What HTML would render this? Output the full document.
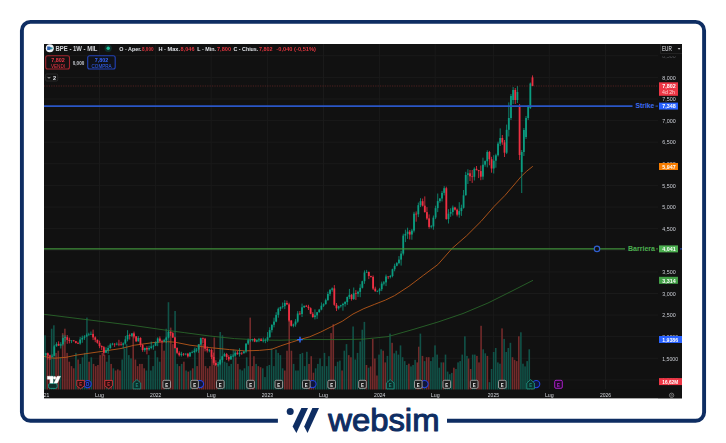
<!DOCTYPE html><html><head><meta charset="utf-8"><title>chart</title><style>html,body{margin:0;padding:0;background:#fff;}svg{display:block}</style></head><body><svg width="726" height="443" viewBox="0 0 726 443" font-family="Liberation Sans, sans-serif">
<defs><filter id="b" color-interpolation-filters="sRGB" x="-5%" y="-5%" width="110%" height="110%"><feGaussianBlur stdDeviation="0.45"/></filter><filter id="tb" color-interpolation-filters="sRGB" x="-2%" y="-2%" width="104%" height="104%"><feGaussianBlur stdDeviation="0.3"/></filter><clipPath id="cc"><rect x="44" y="44" width="614" height="345.8"/></clipPath></defs>
<rect width="726" height="443" fill="#fff"/>
<rect x="21.9" y="21.9" width="682.2" height="398.9" rx="8.5" ry="8.5" fill="none" stroke="#0e2d62" stroke-width="3.9"/>
<rect x="277.9" y="410" width="169.1" height="20" fill="#fff"/>
<rect x="44" y="44" width="638" height="354.2" fill="#111111"/>
<line x1="44" y1="55.8" x2="658" y2="55.8" stroke="#1a1a1a" stroke-width="1"/>
<line x1="44" y1="77.4" x2="658" y2="77.4" stroke="#1a1a1a" stroke-width="1"/>
<line x1="44" y1="99.0" x2="658" y2="99.0" stroke="#1a1a1a" stroke-width="1"/>
<line x1="44" y1="120.6" x2="658" y2="120.6" stroke="#1a1a1a" stroke-width="1"/>
<line x1="44" y1="142.2" x2="658" y2="142.2" stroke="#1a1a1a" stroke-width="1"/>
<line x1="44" y1="163.8" x2="658" y2="163.8" stroke="#1a1a1a" stroke-width="1"/>
<line x1="44" y1="185.4" x2="658" y2="185.4" stroke="#1a1a1a" stroke-width="1"/>
<line x1="44" y1="207.1" x2="658" y2="207.1" stroke="#1a1a1a" stroke-width="1"/>
<line x1="44" y1="228.7" x2="658" y2="228.7" stroke="#1a1a1a" stroke-width="1"/>
<line x1="44" y1="250.3" x2="658" y2="250.3" stroke="#1a1a1a" stroke-width="1"/>
<line x1="44" y1="271.9" x2="658" y2="271.9" stroke="#1a1a1a" stroke-width="1"/>
<line x1="44" y1="293.5" x2="658" y2="293.5" stroke="#1a1a1a" stroke-width="1"/>
<line x1="44" y1="315.1" x2="658" y2="315.1" stroke="#1a1a1a" stroke-width="1"/>
<line x1="44" y1="336.7" x2="658" y2="336.7" stroke="#1a1a1a" stroke-width="1"/>
<line x1="44" y1="358.3" x2="658" y2="358.3" stroke="#1a1a1a" stroke-width="1"/>
<line x1="44" y1="379.9" x2="658" y2="379.9" stroke="#1a1a1a" stroke-width="1"/>
<line x1="99.5" y1="44" x2="99.5" y2="389" stroke="#1a1a1a" stroke-width="1"/>
<line x1="155.7" y1="44" x2="155.7" y2="389" stroke="#1a1a1a" stroke-width="1"/>
<line x1="211.2" y1="44" x2="211.2" y2="389" stroke="#1a1a1a" stroke-width="1"/>
<line x1="267.4" y1="44" x2="267.4" y2="389" stroke="#1a1a1a" stroke-width="1"/>
<line x1="323.5" y1="44" x2="323.5" y2="389" stroke="#1a1a1a" stroke-width="1"/>
<line x1="379.7" y1="44" x2="379.7" y2="389" stroke="#1a1a1a" stroke-width="1"/>
<line x1="435.2" y1="44" x2="435.2" y2="389" stroke="#1a1a1a" stroke-width="1"/>
<line x1="493.4" y1="44" x2="493.4" y2="389" stroke="#1a1a1a" stroke-width="1"/>
<line x1="549.3" y1="44" x2="549.3" y2="389" stroke="#1a1a1a" stroke-width="1"/>
<line x1="605.5" y1="44" x2="605.5" y2="389" stroke="#1a1a1a" stroke-width="1"/>
<g clip-path="url(#cc)" filter="url(#b)">
<rect x="44.25" y="335.3" width="1.6" height="54.5" fill="#115248"/>
<rect x="46.46" y="352.9" width="1.6" height="36.9" fill="#732b2b"/>
<rect x="48.66" y="355.1" width="1.6" height="34.7" fill="#732b2b"/>
<rect x="50.86" y="328.7" width="1.6" height="61.1" fill="#115248"/>
<rect x="53.07" y="325.3" width="1.6" height="64.5" fill="#115248"/>
<rect x="55.27" y="352.9" width="1.6" height="36.9" fill="#732b2b"/>
<rect x="57.48" y="350.7" width="1.6" height="39.1" fill="#732b2b"/>
<rect x="59.68" y="357.3" width="1.6" height="32.5" fill="#115248"/>
<rect x="61.88" y="333.1" width="1.6" height="56.7" fill="#732b2b"/>
<rect x="64.09" y="328.7" width="1.6" height="61.1" fill="#732b2b"/>
<rect x="66.29" y="352.9" width="1.6" height="36.9" fill="#732b2b"/>
<rect x="68.49" y="361.7" width="1.6" height="28.1" fill="#732b2b"/>
<rect x="70.70" y="366.1" width="1.6" height="23.7" fill="#732b2b"/>
<rect x="72.90" y="368.3" width="1.6" height="21.5" fill="#732b2b"/>
<rect x="75.11" y="352.9" width="1.6" height="36.9" fill="#115248"/>
<rect x="77.31" y="359.5" width="1.6" height="30.3" fill="#732b2b"/>
<rect x="79.51" y="363.9" width="1.6" height="25.9" fill="#115248"/>
<rect x="81.72" y="357.3" width="1.6" height="32.5" fill="#115248"/>
<rect x="83.92" y="352.9" width="1.6" height="36.9" fill="#115248"/>
<rect x="86.13" y="317.6" width="1.6" height="72.2" fill="#115248"/>
<rect x="88.33" y="361.7" width="1.6" height="28.1" fill="#732b2b"/>
<rect x="90.53" y="357.3" width="1.6" height="32.5" fill="#115248"/>
<rect x="92.74" y="363.9" width="1.6" height="25.9" fill="#732b2b"/>
<rect x="94.94" y="366.1" width="1.6" height="23.7" fill="#732b2b"/>
<rect x="97.14" y="365.0" width="1.6" height="24.8" fill="#732b2b"/>
<rect x="99.35" y="355.1" width="1.6" height="34.7" fill="#732b2b"/>
<rect x="101.55" y="352.9" width="1.6" height="36.9" fill="#732b2b"/>
<rect x="103.76" y="355.1" width="1.6" height="34.7" fill="#732b2b"/>
<rect x="105.96" y="361.7" width="1.6" height="28.1" fill="#115248"/>
<rect x="108.16" y="355.1" width="1.6" height="34.7" fill="#115248"/>
<rect x="110.37" y="363.9" width="1.6" height="25.9" fill="#732b2b"/>
<rect x="112.57" y="368.3" width="1.6" height="21.5" fill="#115248"/>
<rect x="114.78" y="370.5" width="1.6" height="19.3" fill="#732b2b"/>
<rect x="116.98" y="369.4" width="1.6" height="20.4" fill="#732b2b"/>
<rect x="119.18" y="370.5" width="1.6" height="19.3" fill="#732b2b"/>
<rect x="121.39" y="359.5" width="1.6" height="30.3" fill="#115248"/>
<rect x="123.59" y="348.5" width="1.6" height="41.3" fill="#115248"/>
<rect x="125.79" y="344.1" width="1.6" height="45.7" fill="#115248"/>
<rect x="128.00" y="355.1" width="1.6" height="34.7" fill="#115248"/>
<rect x="130.20" y="358.4" width="1.6" height="31.4" fill="#115248"/>
<rect x="132.41" y="333.1" width="1.6" height="56.7" fill="#732b2b"/>
<rect x="134.61" y="359.5" width="1.6" height="30.3" fill="#732b2b"/>
<rect x="136.81" y="366.1" width="1.6" height="23.7" fill="#732b2b"/>
<rect x="139.02" y="363.9" width="1.6" height="25.9" fill="#732b2b"/>
<rect x="141.22" y="363.9" width="1.6" height="25.9" fill="#732b2b"/>
<rect x="143.43" y="368.3" width="1.6" height="21.5" fill="#732b2b"/>
<rect x="145.63" y="370.5" width="1.6" height="19.3" fill="#115248"/>
<rect x="147.83" y="355.1" width="1.6" height="34.7" fill="#115248"/>
<rect x="150.04" y="370.5" width="1.6" height="19.3" fill="#115248"/>
<rect x="152.24" y="366.1" width="1.6" height="23.7" fill="#115248"/>
<rect x="154.44" y="350.7" width="1.6" height="39.1" fill="#115248"/>
<rect x="156.65" y="357.3" width="1.6" height="32.5" fill="#115248"/>
<rect x="158.85" y="361.7" width="1.6" height="28.1" fill="#115248"/>
<rect x="161.06" y="344.1" width="1.6" height="45.7" fill="#732b2b"/>
<rect x="163.26" y="350.7" width="1.6" height="39.1" fill="#732b2b"/>
<rect x="165.46" y="328.7" width="1.6" height="61.1" fill="#115248"/>
<rect x="167.67" y="302.2" width="1.6" height="87.6" fill="#115248"/>
<rect x="169.87" y="327.6" width="1.6" height="62.2" fill="#732b2b"/>
<rect x="172.08" y="344.1" width="1.6" height="45.7" fill="#732b2b"/>
<rect x="174.28" y="311.0" width="1.6" height="78.8" fill="#115248"/>
<rect x="176.48" y="363.9" width="1.6" height="25.9" fill="#115248"/>
<rect x="178.69" y="366.1" width="1.6" height="23.7" fill="#732b2b"/>
<rect x="180.89" y="363.9" width="1.6" height="25.9" fill="#115248"/>
<rect x="183.09" y="361.7" width="1.6" height="28.1" fill="#732b2b"/>
<rect x="185.30" y="370.5" width="1.6" height="19.3" fill="#115248"/>
<rect x="187.50" y="371.6" width="1.6" height="18.2" fill="#732b2b"/>
<rect x="189.71" y="370.5" width="1.6" height="19.3" fill="#115248"/>
<rect x="191.91" y="368.3" width="1.6" height="21.5" fill="#732b2b"/>
<rect x="194.11" y="347.4" width="1.6" height="42.4" fill="#115248"/>
<rect x="196.32" y="366.1" width="1.6" height="23.7" fill="#732b2b"/>
<rect x="198.52" y="344.1" width="1.6" height="45.7" fill="#732b2b"/>
<rect x="200.73" y="339.7" width="1.6" height="50.1" fill="#732b2b"/>
<rect x="202.46" y="344.1" width="1.6" height="45.7" fill="#732b2b"/>
<rect x="204.66" y="366.1" width="1.6" height="23.7" fill="#732b2b"/>
<rect x="206.86" y="368.3" width="1.6" height="21.5" fill="#732b2b"/>
<rect x="209.07" y="366.1" width="1.6" height="23.7" fill="#732b2b"/>
<rect x="211.27" y="355.1" width="1.6" height="34.7" fill="#732b2b"/>
<rect x="213.48" y="337.5" width="1.6" height="52.3" fill="#732b2b"/>
<rect x="215.68" y="366.1" width="1.6" height="23.7" fill="#732b2b"/>
<rect x="217.88" y="361.7" width="1.6" height="28.1" fill="#115248"/>
<rect x="219.43" y="332.0" width="1.6" height="57.8" fill="#115248"/>
<rect x="221.63" y="335.3" width="1.6" height="54.5" fill="#115248"/>
<rect x="223.83" y="361.7" width="1.6" height="28.1" fill="#115248"/>
<rect x="226.04" y="362.8" width="1.6" height="27.0" fill="#115248"/>
<rect x="228.24" y="366.1" width="1.6" height="23.7" fill="#115248"/>
<rect x="230.44" y="363.9" width="1.6" height="25.9" fill="#115248"/>
<rect x="232.65" y="349.6" width="1.6" height="40.2" fill="#115248"/>
<rect x="234.85" y="357.3" width="1.6" height="32.5" fill="#732b2b"/>
<rect x="237.06" y="363.9" width="1.6" height="25.9" fill="#732b2b"/>
<rect x="239.26" y="369.4" width="1.6" height="20.4" fill="#115248"/>
<rect x="241.46" y="370.5" width="1.6" height="19.3" fill="#115248"/>
<rect x="243.67" y="368.3" width="1.6" height="21.5" fill="#115248"/>
<rect x="245.87" y="357.3" width="1.6" height="32.5" fill="#115248"/>
<rect x="247.63" y="366.1" width="1.6" height="23.7" fill="#115248"/>
<rect x="249.40" y="317.6" width="1.6" height="72.2" fill="#732b2b"/>
<rect x="251.60" y="366.1" width="1.6" height="23.7" fill="#732b2b"/>
<rect x="253.14" y="356.2" width="1.6" height="33.6" fill="#732b2b"/>
<rect x="255.35" y="363.9" width="1.6" height="25.9" fill="#115248"/>
<rect x="257.55" y="366.1" width="1.6" height="23.7" fill="#732b2b"/>
<rect x="259.76" y="367.2" width="1.6" height="22.6" fill="#732b2b"/>
<rect x="261.96" y="368.3" width="1.6" height="21.5" fill="#115248"/>
<rect x="264.16" y="377.1" width="1.6" height="12.7" fill="#115248"/>
<rect x="266.37" y="366.1" width="1.6" height="23.7" fill="#115248"/>
<rect x="268.57" y="365.0" width="1.6" height="24.8" fill="#115248"/>
<rect x="270.78" y="348.5" width="1.6" height="41.3" fill="#115248"/>
<rect x="272.98" y="366.1" width="1.6" height="23.7" fill="#115248"/>
<rect x="275.18" y="349.6" width="1.6" height="40.2" fill="#115248"/>
<rect x="277.39" y="352.9" width="1.6" height="36.9" fill="#115248"/>
<rect x="279.59" y="355.1" width="1.6" height="34.7" fill="#115248"/>
<rect x="281.79" y="368.3" width="1.6" height="21.5" fill="#115248"/>
<rect x="284.00" y="370.5" width="1.6" height="19.3" fill="#732b2b"/>
<rect x="286.20" y="350.7" width="1.6" height="39.1" fill="#732b2b"/>
<rect x="288.41" y="306.6" width="1.6" height="83.2" fill="#732b2b"/>
<rect x="290.61" y="350.7" width="1.6" height="39.1" fill="#732b2b"/>
<rect x="292.81" y="363.9" width="1.6" height="25.9" fill="#115248"/>
<rect x="295.02" y="370.5" width="1.6" height="19.3" fill="#115248"/>
<rect x="297.22" y="370.5" width="1.6" height="19.3" fill="#115248"/>
<rect x="299.43" y="354.0" width="1.6" height="35.8" fill="#115248"/>
<rect x="301.63" y="352.9" width="1.6" height="36.9" fill="#115248"/>
<rect x="303.83" y="366.1" width="1.6" height="23.7" fill="#115248"/>
<rect x="306.04" y="351.8" width="1.6" height="38.0" fill="#115248"/>
<rect x="308.24" y="363.9" width="1.6" height="25.9" fill="#732b2b"/>
<rect x="310.44" y="356.2" width="1.6" height="33.6" fill="#732b2b"/>
<rect x="312.65" y="372.7" width="1.6" height="17.1" fill="#732b2b"/>
<rect x="314.85" y="368.3" width="1.6" height="21.5" fill="#115248"/>
<rect x="317.06" y="363.9" width="1.6" height="25.9" fill="#115248"/>
<rect x="319.26" y="358.4" width="1.6" height="31.4" fill="#115248"/>
<rect x="321.46" y="366.1" width="1.6" height="23.7" fill="#115248"/>
<rect x="323.67" y="352.9" width="1.6" height="36.9" fill="#115248"/>
<rect x="325.87" y="366.1" width="1.6" height="23.7" fill="#115248"/>
<rect x="328.08" y="356.2" width="1.6" height="33.6" fill="#115248"/>
<rect x="330.28" y="333.1" width="1.6" height="56.7" fill="#732b2b"/>
<rect x="332.48" y="324.2" width="1.6" height="65.6" fill="#732b2b"/>
<rect x="334.69" y="366.1" width="1.6" height="23.7" fill="#115248"/>
<rect x="336.89" y="361.7" width="1.6" height="28.1" fill="#115248"/>
<rect x="339.09" y="360.6" width="1.6" height="29.2" fill="#115248"/>
<rect x="341.30" y="370.5" width="1.6" height="19.3" fill="#732b2b"/>
<rect x="343.50" y="350.7" width="1.6" height="39.1" fill="#115248"/>
<rect x="345.71" y="344.1" width="1.6" height="45.7" fill="#115248"/>
<rect x="347.91" y="355.1" width="1.6" height="34.7" fill="#732b2b"/>
<rect x="350.11" y="357.3" width="1.6" height="32.5" fill="#732b2b"/>
<rect x="352.32" y="326.5" width="1.6" height="63.3" fill="#115248"/>
<rect x="354.52" y="359.5" width="1.6" height="30.3" fill="#115248"/>
<rect x="356.73" y="352.9" width="1.6" height="36.9" fill="#115248"/>
<rect x="359.38" y="341.5" width="1.6" height="48.3" fill="#115248"/>
<rect x="361.48" y="329.7" width="1.6" height="60.1" fill="#115248"/>
<rect x="363.57" y="321.9" width="1.6" height="67.9" fill="#115248"/>
<rect x="365.67" y="365.0" width="1.6" height="24.8" fill="#732b2b"/>
<rect x="367.76" y="367.7" width="1.6" height="22.1" fill="#115248"/>
<rect x="369.85" y="366.4" width="1.6" height="23.4" fill="#732b2b"/>
<rect x="371.95" y="338.9" width="1.6" height="50.9" fill="#732b2b"/>
<rect x="374.04" y="358.5" width="1.6" height="31.3" fill="#732b2b"/>
<rect x="376.13" y="375.5" width="1.6" height="14.3" fill="#732b2b"/>
<rect x="378.23" y="354.6" width="1.6" height="35.2" fill="#115248"/>
<rect x="380.32" y="349.3" width="1.6" height="40.5" fill="#115248"/>
<rect x="382.41" y="350.7" width="1.6" height="39.1" fill="#732b2b"/>
<rect x="384.51" y="362.4" width="1.6" height="27.4" fill="#732b2b"/>
<rect x="386.60" y="355.9" width="1.6" height="33.9" fill="#115248"/>
<rect x="389.22" y="333.6" width="1.6" height="56.2" fill="#115248"/>
<rect x="391.31" y="342.8" width="1.6" height="47.0" fill="#732b2b"/>
<rect x="393.41" y="353.3" width="1.6" height="36.5" fill="#115248"/>
<rect x="395.50" y="350.7" width="1.6" height="39.1" fill="#115248"/>
<rect x="397.59" y="354.6" width="1.6" height="35.2" fill="#115248"/>
<rect x="399.69" y="345.4" width="1.6" height="44.4" fill="#115248"/>
<rect x="401.78" y="357.2" width="1.6" height="32.6" fill="#115248"/>
<rect x="403.88" y="361.1" width="1.6" height="28.7" fill="#115248"/>
<rect x="405.97" y="365.0" width="1.6" height="24.8" fill="#115248"/>
<rect x="408.06" y="363.7" width="1.6" height="26.1" fill="#732b2b"/>
<rect x="410.16" y="366.4" width="1.6" height="23.4" fill="#115248"/>
<rect x="412.25" y="365.0" width="1.6" height="24.8" fill="#115248"/>
<rect x="414.34" y="359.8" width="1.6" height="30.0" fill="#115248"/>
<rect x="416.44" y="362.4" width="1.6" height="27.4" fill="#732b2b"/>
<rect x="418.01" y="346.7" width="1.6" height="43.1" fill="#732b2b"/>
<rect x="419.58" y="333.6" width="1.6" height="56.2" fill="#115248"/>
<rect x="421.67" y="355.9" width="1.6" height="33.9" fill="#732b2b"/>
<rect x="423.77" y="361.1" width="1.6" height="28.7" fill="#115248"/>
<rect x="425.86" y="357.2" width="1.6" height="32.6" fill="#732b2b"/>
<rect x="427.95" y="357.2" width="1.6" height="32.6" fill="#732b2b"/>
<rect x="430.05" y="361.1" width="1.6" height="28.7" fill="#115248"/>
<rect x="432.14" y="357.2" width="1.6" height="32.6" fill="#115248"/>
<rect x="434.23" y="345.4" width="1.6" height="44.4" fill="#115248"/>
<rect x="436.33" y="354.6" width="1.6" height="35.2" fill="#115248"/>
<rect x="438.42" y="367.7" width="1.6" height="22.1" fill="#115248"/>
<rect x="440.51" y="362.4" width="1.6" height="27.4" fill="#115248"/>
<rect x="442.61" y="362.4" width="1.6" height="27.4" fill="#732b2b"/>
<rect x="444.70" y="354.6" width="1.6" height="35.2" fill="#115248"/>
<rect x="446.80" y="371.6" width="1.6" height="18.2" fill="#115248"/>
<rect x="448.89" y="374.2" width="1.6" height="15.6" fill="#115248"/>
<rect x="450.98" y="372.9" width="1.6" height="16.9" fill="#115248"/>
<rect x="453.08" y="367.7" width="1.6" height="22.1" fill="#732b2b"/>
<rect x="455.17" y="369.0" width="1.6" height="20.8" fill="#115248"/>
<rect x="457.26" y="362.4" width="1.6" height="27.4" fill="#115248"/>
<rect x="459.36" y="361.1" width="1.6" height="28.7" fill="#115248"/>
<rect x="461.45" y="354.6" width="1.6" height="35.2" fill="#115248"/>
<rect x="464.07" y="336.3" width="1.6" height="53.5" fill="#115248"/>
<rect x="466.16" y="355.9" width="1.6" height="33.9" fill="#115248"/>
<rect x="467.73" y="358.5" width="1.6" height="31.3" fill="#732b2b"/>
<rect x="469.83" y="369.0" width="1.6" height="20.8" fill="#732b2b"/>
<rect x="471.92" y="354.6" width="1.6" height="35.2" fill="#115248"/>
<rect x="474.01" y="354.6" width="1.6" height="35.2" fill="#115248"/>
<rect x="476.11" y="355.9" width="1.6" height="33.9" fill="#732b2b"/>
<rect x="478.20" y="362.4" width="1.6" height="27.4" fill="#732b2b"/>
<rect x="480.29" y="325.8" width="1.6" height="64.0" fill="#732b2b"/>
<rect x="482.39" y="349.3" width="1.6" height="40.5" fill="#115248"/>
<rect x="484.48" y="353.3" width="1.6" height="36.5" fill="#115248"/>
<rect x="486.58" y="355.9" width="1.6" height="33.9" fill="#732b2b"/>
<rect x="488.67" y="382.1" width="1.6" height="7.7" fill="#115248"/>
<rect x="490.76" y="369.0" width="1.6" height="20.8" fill="#115248"/>
<rect x="492.86" y="352.0" width="1.6" height="37.8" fill="#115248"/>
<rect x="494.95" y="348.0" width="1.6" height="41.8" fill="#115248"/>
<rect x="497.04" y="362.4" width="1.6" height="27.4" fill="#115248"/>
<rect x="499.14" y="363.7" width="1.6" height="26.1" fill="#115248"/>
<rect x="501.23" y="328.4" width="1.6" height="61.4" fill="#732b2b"/>
<rect x="503.33" y="338.9" width="1.6" height="50.9" fill="#115248"/>
<rect x="505.42" y="352.0" width="1.6" height="37.8" fill="#115248"/>
<rect x="507.51" y="348.0" width="1.6" height="41.8" fill="#115248"/>
<rect x="509.61" y="342.8" width="1.6" height="47.0" fill="#115248"/>
<rect x="511.70" y="357.2" width="1.6" height="32.6" fill="#732b2b"/>
<rect x="513.79" y="359.8" width="1.6" height="30.0" fill="#732b2b"/>
<rect x="515.89" y="361.1" width="1.6" height="28.7" fill="#732b2b"/>
<rect x="517.98" y="336.3" width="1.6" height="53.5" fill="#732b2b"/>
<rect x="520.08" y="332.3" width="1.6" height="57.5" fill="#115248"/>
<rect x="522.17" y="363.7" width="1.6" height="26.1" fill="#115248"/>
<rect x="524.26" y="366.4" width="1.6" height="23.4" fill="#115248"/>
<rect x="526.36" y="361.1" width="1.6" height="28.7" fill="#115248"/>
<rect x="528.45" y="349.3" width="1.6" height="40.5" fill="#115248"/>
<rect x="531.15" y="381.2" width="1.6" height="8.6" fill="#732b2b"/>
</g>
<polyline points="44.0,314.3 88.0,319.8 132.0,325.3 167.4,330.4 184.8,332.7 209.7,336.0 234.5,338.6 259.4,340.0 280.0,340.2 306.0,339.5 340.0,339.6 363.0,339.2 388.0,336.6 413.0,329.5 438.0,322.0 463.0,313.5 488.0,303.0 513.0,290.5 533.0,280.3" fill="none" stroke="#2a6a2c" stroke-width="0.85" stroke-linejoin="round" filter="url(#b)"/>
<polyline points="44.0,356.3 50.0,357.8 55.0,358.2 66.0,357.3 77.0,355.0 99.0,351.8 121.0,348.5 134.4,345.2 154.0,342.5 167.4,341.7 175.0,342.2 190.0,345.2 209.7,347.6 229.6,349.6 244.5,350.9 259.4,350.4 271.8,349.2 280.8,345.8 291.7,342.2 300.7,339.3 309.7,336.8 320.6,332.1 331.4,326.7 342.2,321.3 353.0,314.0 363.9,308.6 374.7,304.3 385.6,300.0 394.6,295.6 408.9,286.3 423.3,275.4 437.8,264.6 452.2,248.3 466.7,235.7 481.1,221.3 494.2,206.3 505.0,195.4 515.8,182.8 521.3,176.3 526.7,171.2 532.8,166.3" fill="none" stroke="#b8581a" stroke-width="0.9" stroke-linejoin="round" filter="url(#b)"/>
<g clip-path="url(#cc)" filter="url(#b)">
<line x1="45.70" y1="352.9" x2="45.70" y2="357.4" stroke="#0b9c80" stroke-width="0.8"/>
<rect x="44.80" y="353.3" width="1.8" height="1.5" fill="#0b9c80"/>
<line x1="47.85" y1="352.6" x2="47.85" y2="359.6" stroke="#ee3043" stroke-width="0.8"/>
<rect x="46.95" y="353.3" width="1.8" height="2.2" fill="#ee3043"/>
<line x1="50.00" y1="354.7" x2="50.00" y2="360.0" stroke="#ee3043" stroke-width="0.8"/>
<rect x="49.10" y="355.5" width="1.8" height="1.2" fill="#ee3043"/>
<line x1="52.16" y1="354.2" x2="52.16" y2="357.4" stroke="#0b9c80" stroke-width="0.8"/>
<rect x="51.26" y="355.8" width="1.8" height="0.9" fill="#0b9c80"/>
<line x1="54.31" y1="345.0" x2="54.31" y2="356.0" stroke="#0b9c80" stroke-width="0.8"/>
<rect x="53.41" y="346.3" width="1.8" height="9.5" fill="#0b9c80"/>
<line x1="56.47" y1="342.2" x2="56.47" y2="346.6" stroke="#0b9c80" stroke-width="0.8"/>
<rect x="55.57" y="343.9" width="1.8" height="2.4" fill="#0b9c80"/>
<line x1="58.62" y1="341.3" x2="58.62" y2="345.9" stroke="#ee3043" stroke-width="0.8"/>
<rect x="57.72" y="343.9" width="1.8" height="1.7" fill="#ee3043"/>
<line x1="60.77" y1="342.2" x2="60.77" y2="348.5" stroke="#0b9c80" stroke-width="0.8"/>
<rect x="59.87" y="344.3" width="1.8" height="1.3" fill="#0b9c80"/>
<line x1="62.93" y1="334.7" x2="62.93" y2="345.7" stroke="#0b9c80" stroke-width="0.8"/>
<rect x="62.03" y="338.0" width="1.8" height="6.3" fill="#0b9c80"/>
<line x1="65.08" y1="335.3" x2="65.08" y2="341.7" stroke="#0b9c80" stroke-width="0.8"/>
<rect x="64.18" y="337.2" width="1.8" height="0.8" fill="#0b9c80"/>
<line x1="67.24" y1="335.0" x2="67.24" y2="343.8" stroke="#ee3043" stroke-width="0.8"/>
<rect x="66.34" y="337.2" width="1.8" height="2.7" fill="#ee3043"/>
<line x1="69.39" y1="337.7" x2="69.39" y2="343.4" stroke="#ee3043" stroke-width="0.8"/>
<rect x="68.49" y="339.9" width="1.8" height="1.0" fill="#ee3043"/>
<line x1="71.54" y1="340.2" x2="71.54" y2="343.1" stroke="#0b9c80" stroke-width="0.8"/>
<rect x="70.64" y="340.4" width="1.8" height="0.7" fill="#0b9c80"/>
<line x1="73.70" y1="340.0" x2="73.70" y2="341.5" stroke="#ee3043" stroke-width="0.8"/>
<rect x="72.80" y="340.4" width="1.8" height="0.8" fill="#ee3043"/>
<line x1="75.85" y1="340.9" x2="75.85" y2="343.5" stroke="#ee3043" stroke-width="0.8"/>
<rect x="74.95" y="341.2" width="1.8" height="1.7" fill="#ee3043"/>
<line x1="78.01" y1="341.7" x2="78.01" y2="344.0" stroke="#ee3043" stroke-width="0.8"/>
<rect x="77.11" y="343.0" width="1.8" height="0.7" fill="#ee3043"/>
<line x1="80.16" y1="336.9" x2="80.16" y2="344.7" stroke="#0b9c80" stroke-width="0.8"/>
<rect x="79.26" y="339.5" width="1.8" height="4.0" fill="#0b9c80"/>
<line x1="82.31" y1="335.6" x2="82.31" y2="342.8" stroke="#0b9c80" stroke-width="0.8"/>
<rect x="81.41" y="337.8" width="1.8" height="1.7" fill="#0b9c80"/>
<line x1="84.47" y1="335.2" x2="84.47" y2="339.9" stroke="#0b9c80" stroke-width="0.8"/>
<rect x="83.57" y="336.5" width="1.8" height="1.2" fill="#0b9c80"/>
<line x1="86.62" y1="333.5" x2="86.62" y2="336.8" stroke="#0b9c80" stroke-width="0.8"/>
<rect x="85.72" y="335.2" width="1.8" height="1.3" fill="#0b9c80"/>
<line x1="88.78" y1="332.7" x2="88.78" y2="335.7" stroke="#0b9c80" stroke-width="0.8"/>
<rect x="87.88" y="334.4" width="1.8" height="0.8" fill="#0b9c80"/>
<line x1="90.93" y1="331.5" x2="90.93" y2="334.9" stroke="#0b9c80" stroke-width="0.8"/>
<rect x="90.03" y="333.9" width="1.8" height="0.7" fill="#0b9c80"/>
<line x1="93.08" y1="329.6" x2="93.08" y2="340.1" stroke="#ee3043" stroke-width="0.8"/>
<rect x="92.18" y="333.9" width="1.8" height="3.5" fill="#ee3043"/>
<line x1="95.24" y1="336.3" x2="95.24" y2="342.2" stroke="#ee3043" stroke-width="0.8"/>
<rect x="94.34" y="337.4" width="1.8" height="2.4" fill="#ee3043"/>
<line x1="97.39" y1="339.5" x2="97.39" y2="343.7" stroke="#ee3043" stroke-width="0.8"/>
<rect x="96.49" y="339.8" width="1.8" height="3.0" fill="#ee3043"/>
<line x1="99.55" y1="340.7" x2="99.55" y2="348.2" stroke="#ee3043" stroke-width="0.8"/>
<rect x="98.65" y="342.8" width="1.8" height="3.3" fill="#ee3043"/>
<line x1="101.70" y1="345.4" x2="101.70" y2="350.0" stroke="#ee3043" stroke-width="0.8"/>
<rect x="100.80" y="346.0" width="1.8" height="1.2" fill="#ee3043"/>
<line x1="103.85" y1="346.0" x2="103.85" y2="355.9" stroke="#ee3043" stroke-width="0.8"/>
<rect x="102.95" y="347.2" width="1.8" height="5.6" fill="#ee3043"/>
<line x1="106.01" y1="347.2" x2="106.01" y2="353.1" stroke="#0b9c80" stroke-width="0.8"/>
<rect x="105.11" y="350.3" width="1.8" height="2.4" fill="#0b9c80"/>
<line x1="108.16" y1="345.5" x2="108.16" y2="353.7" stroke="#0b9c80" stroke-width="0.8"/>
<rect x="107.26" y="348.0" width="1.8" height="2.4" fill="#0b9c80"/>
<line x1="110.32" y1="343.2" x2="110.32" y2="348.8" stroke="#0b9c80" stroke-width="0.8"/>
<rect x="109.42" y="344.6" width="1.8" height="3.4" fill="#0b9c80"/>
<line x1="112.47" y1="342.8" x2="112.47" y2="345.4" stroke="#0b9c80" stroke-width="0.8"/>
<rect x="111.57" y="343.7" width="1.8" height="0.8" fill="#0b9c80"/>
<line x1="114.62" y1="343.3" x2="114.62" y2="346.9" stroke="#ee3043" stroke-width="0.8"/>
<rect x="113.72" y="343.7" width="1.8" height="0.7" fill="#ee3043"/>
<line x1="116.78" y1="342.4" x2="116.78" y2="345.3" stroke="#0b9c80" stroke-width="0.8"/>
<rect x="115.88" y="343.8" width="1.8" height="0.7" fill="#0b9c80"/>
<line x1="118.93" y1="339.8" x2="118.93" y2="346.2" stroke="#ee3043" stroke-width="0.8"/>
<rect x="118.03" y="343.8" width="1.8" height="0.7" fill="#ee3043"/>
<line x1="121.09" y1="341.8" x2="121.09" y2="345.6" stroke="#ee3043" stroke-width="0.8"/>
<rect x="120.19" y="344.4" width="1.8" height="0.7" fill="#ee3043"/>
<line x1="123.24" y1="342.4" x2="123.24" y2="348.6" stroke="#0b9c80" stroke-width="0.8"/>
<rect x="122.34" y="343.4" width="1.8" height="1.5" fill="#0b9c80"/>
<line x1="125.39" y1="335.9" x2="125.39" y2="344.5" stroke="#0b9c80" stroke-width="0.8"/>
<rect x="124.49" y="339.4" width="1.8" height="4.1" fill="#0b9c80"/>
<line x1="127.55" y1="330.2" x2="127.55" y2="341.4" stroke="#0b9c80" stroke-width="0.8"/>
<rect x="126.65" y="335.1" width="1.8" height="4.3" fill="#0b9c80"/>
<line x1="129.70" y1="333.6" x2="129.70" y2="339.6" stroke="#ee3043" stroke-width="0.8"/>
<rect x="128.80" y="335.1" width="1.8" height="0.7" fill="#ee3043"/>
<line x1="131.86" y1="333.1" x2="131.86" y2="337.1" stroke="#0b9c80" stroke-width="0.8"/>
<rect x="130.96" y="333.5" width="1.8" height="2.3" fill="#0b9c80"/>
<line x1="134.01" y1="331.6" x2="134.01" y2="338.4" stroke="#ee3043" stroke-width="0.8"/>
<rect x="133.11" y="333.5" width="1.8" height="3.0" fill="#ee3043"/>
<line x1="136.16" y1="336.1" x2="136.16" y2="342.1" stroke="#ee3043" stroke-width="0.8"/>
<rect x="135.26" y="336.4" width="1.8" height="4.9" fill="#ee3043"/>
<line x1="138.32" y1="336.1" x2="138.32" y2="341.6" stroke="#0b9c80" stroke-width="0.8"/>
<rect x="137.42" y="337.9" width="1.8" height="3.4" fill="#0b9c80"/>
<line x1="140.47" y1="337.3" x2="140.47" y2="346.9" stroke="#ee3043" stroke-width="0.8"/>
<rect x="139.57" y="337.9" width="1.8" height="7.0" fill="#ee3043"/>
<line x1="142.63" y1="344.1" x2="142.63" y2="351.8" stroke="#ee3043" stroke-width="0.8"/>
<rect x="141.73" y="344.9" width="1.8" height="5.1" fill="#ee3043"/>
<line x1="144.78" y1="347.6" x2="144.78" y2="351.8" stroke="#0b9c80" stroke-width="0.8"/>
<rect x="143.88" y="348.0" width="1.8" height="2.1" fill="#0b9c80"/>
<line x1="146.93" y1="346.3" x2="146.93" y2="354.3" stroke="#ee3043" stroke-width="0.8"/>
<rect x="146.03" y="348.0" width="1.8" height="1.5" fill="#ee3043"/>
<line x1="149.09" y1="345.8" x2="149.09" y2="350.7" stroke="#0b9c80" stroke-width="0.8"/>
<rect x="148.19" y="348.0" width="1.8" height="1.4" fill="#0b9c80"/>
<line x1="151.24" y1="341.6" x2="151.24" y2="349.3" stroke="#0b9c80" stroke-width="0.8"/>
<rect x="150.34" y="346.4" width="1.8" height="1.6" fill="#0b9c80"/>
<line x1="153.40" y1="344.7" x2="153.40" y2="349.7" stroke="#0b9c80" stroke-width="0.8"/>
<rect x="152.50" y="345.8" width="1.8" height="0.7" fill="#0b9c80"/>
<line x1="155.55" y1="341.4" x2="155.55" y2="346.1" stroke="#0b9c80" stroke-width="0.8"/>
<rect x="154.65" y="342.3" width="1.8" height="3.4" fill="#0b9c80"/>
<line x1="157.70" y1="337.3" x2="157.70" y2="346.2" stroke="#0b9c80" stroke-width="0.8"/>
<rect x="156.80" y="338.5" width="1.8" height="3.9" fill="#0b9c80"/>
<line x1="159.86" y1="336.4" x2="159.86" y2="342.0" stroke="#ee3043" stroke-width="0.8"/>
<rect x="158.96" y="338.5" width="1.8" height="2.7" fill="#ee3043"/>
<line x1="162.01" y1="339.7" x2="162.01" y2="344.0" stroke="#ee3043" stroke-width="0.8"/>
<rect x="161.11" y="341.2" width="1.8" height="0.7" fill="#ee3043"/>
<line x1="164.17" y1="338.8" x2="164.17" y2="342.1" stroke="#0b9c80" stroke-width="0.8"/>
<rect x="163.27" y="340.2" width="1.8" height="1.5" fill="#0b9c80"/>
<line x1="166.32" y1="336.6" x2="166.32" y2="343.1" stroke="#0b9c80" stroke-width="0.8"/>
<rect x="165.42" y="337.6" width="1.8" height="2.6" fill="#0b9c80"/>
<line x1="168.47" y1="330.6" x2="168.47" y2="338.4" stroke="#0b9c80" stroke-width="0.8"/>
<rect x="167.57" y="331.9" width="1.8" height="5.7" fill="#0b9c80"/>
<line x1="170.63" y1="331.4" x2="170.63" y2="335.8" stroke="#ee3043" stroke-width="0.8"/>
<rect x="169.73" y="331.9" width="1.8" height="1.2" fill="#ee3043"/>
<line x1="172.78" y1="331.9" x2="172.78" y2="337.9" stroke="#ee3043" stroke-width="0.8"/>
<rect x="171.88" y="333.1" width="1.8" height="4.4" fill="#ee3043"/>
<line x1="174.94" y1="336.6" x2="174.94" y2="348.6" stroke="#ee3043" stroke-width="0.8"/>
<rect x="174.04" y="337.5" width="1.8" height="10.5" fill="#ee3043"/>
<line x1="177.09" y1="347.3" x2="177.09" y2="354.2" stroke="#ee3043" stroke-width="0.8"/>
<rect x="176.19" y="348.0" width="1.8" height="4.8" fill="#ee3043"/>
<line x1="179.24" y1="351.2" x2="179.24" y2="356.5" stroke="#ee3043" stroke-width="0.8"/>
<rect x="178.34" y="352.8" width="1.8" height="2.4" fill="#ee3043"/>
<line x1="181.40" y1="351.8" x2="181.40" y2="356.6" stroke="#0b9c80" stroke-width="0.8"/>
<rect x="180.50" y="353.8" width="1.8" height="1.4" fill="#0b9c80"/>
<line x1="183.55" y1="353.0" x2="183.55" y2="355.8" stroke="#ee3043" stroke-width="0.8"/>
<rect x="182.65" y="353.8" width="1.8" height="0.7" fill="#ee3043"/>
<line x1="185.71" y1="353.3" x2="185.71" y2="355.3" stroke="#0b9c80" stroke-width="0.8"/>
<rect x="184.81" y="353.7" width="1.8" height="0.7" fill="#0b9c80"/>
<line x1="187.86" y1="352.9" x2="187.86" y2="357.6" stroke="#ee3043" stroke-width="0.8"/>
<rect x="186.96" y="353.7" width="1.8" height="2.7" fill="#ee3043"/>
<line x1="190.01" y1="352.0" x2="190.01" y2="357.1" stroke="#0b9c80" stroke-width="0.8"/>
<rect x="189.11" y="352.6" width="1.8" height="3.8" fill="#0b9c80"/>
<line x1="192.17" y1="350.5" x2="192.17" y2="353.3" stroke="#0b9c80" stroke-width="0.8"/>
<rect x="191.27" y="352.1" width="1.8" height="0.7" fill="#0b9c80"/>
<line x1="194.32" y1="348.6" x2="194.32" y2="353.0" stroke="#0b9c80" stroke-width="0.8"/>
<rect x="193.42" y="350.8" width="1.8" height="1.2" fill="#0b9c80"/>
<line x1="196.48" y1="348.0" x2="196.48" y2="352.3" stroke="#0b9c80" stroke-width="0.8"/>
<rect x="195.58" y="349.6" width="1.8" height="1.2" fill="#0b9c80"/>
<line x1="198.63" y1="344.1" x2="198.63" y2="352.8" stroke="#0b9c80" stroke-width="0.8"/>
<rect x="197.73" y="344.4" width="1.8" height="5.2" fill="#0b9c80"/>
<line x1="200.78" y1="337.6" x2="200.78" y2="345.8" stroke="#0b9c80" stroke-width="0.8"/>
<rect x="199.88" y="338.1" width="1.8" height="6.4" fill="#0b9c80"/>
<line x1="202.94" y1="337.5" x2="202.94" y2="343.3" stroke="#ee3043" stroke-width="0.8"/>
<rect x="202.04" y="338.1" width="1.8" height="0.7" fill="#ee3043"/>
<line x1="205.09" y1="337.9" x2="205.09" y2="351.4" stroke="#ee3043" stroke-width="0.8"/>
<rect x="204.19" y="338.7" width="1.8" height="10.0" fill="#ee3043"/>
<line x1="207.25" y1="346.5" x2="207.25" y2="352.5" stroke="#ee3043" stroke-width="0.8"/>
<rect x="206.35" y="348.7" width="1.8" height="1.8" fill="#ee3043"/>
<line x1="209.40" y1="348.9" x2="209.40" y2="352.3" stroke="#0b9c80" stroke-width="0.8"/>
<rect x="208.50" y="349.9" width="1.8" height="0.7" fill="#0b9c80"/>
<line x1="211.55" y1="348.5" x2="211.55" y2="359.0" stroke="#ee3043" stroke-width="0.8"/>
<rect x="210.65" y="349.9" width="1.8" height="7.0" fill="#ee3043"/>
<line x1="213.71" y1="352.6" x2="213.71" y2="364.8" stroke="#ee3043" stroke-width="0.8"/>
<rect x="212.81" y="357.0" width="1.8" height="5.9" fill="#ee3043"/>
<line x1="215.86" y1="360.2" x2="215.86" y2="366.1" stroke="#ee3043" stroke-width="0.8"/>
<rect x="214.96" y="362.9" width="1.8" height="2.4" fill="#ee3043"/>
<line x1="218.02" y1="361.9" x2="218.02" y2="366.7" stroke="#0b9c80" stroke-width="0.8"/>
<rect x="217.12" y="364.3" width="1.8" height="1.0" fill="#0b9c80"/>
<line x1="220.17" y1="358.9" x2="220.17" y2="365.3" stroke="#0b9c80" stroke-width="0.8"/>
<rect x="219.27" y="359.9" width="1.8" height="4.4" fill="#0b9c80"/>
<line x1="222.32" y1="355.8" x2="222.32" y2="362.6" stroke="#0b9c80" stroke-width="0.8"/>
<rect x="221.42" y="356.3" width="1.8" height="3.6" fill="#0b9c80"/>
<line x1="224.48" y1="352.7" x2="224.48" y2="356.6" stroke="#0b9c80" stroke-width="0.8"/>
<rect x="223.58" y="354.1" width="1.8" height="2.2" fill="#0b9c80"/>
<line x1="226.63" y1="352.9" x2="226.63" y2="360.0" stroke="#ee3043" stroke-width="0.8"/>
<rect x="225.73" y="354.1" width="1.8" height="2.9" fill="#ee3043"/>
<line x1="228.79" y1="355.2" x2="228.79" y2="361.3" stroke="#ee3043" stroke-width="0.8"/>
<rect x="227.89" y="357.0" width="1.8" height="2.4" fill="#ee3043"/>
<line x1="230.94" y1="354.1" x2="230.94" y2="359.8" stroke="#0b9c80" stroke-width="0.8"/>
<rect x="230.04" y="356.1" width="1.8" height="3.3" fill="#0b9c80"/>
<line x1="233.09" y1="354.2" x2="233.09" y2="356.8" stroke="#0b9c80" stroke-width="0.8"/>
<rect x="232.19" y="355.7" width="1.8" height="0.7" fill="#0b9c80"/>
<line x1="235.25" y1="350.7" x2="235.25" y2="356.9" stroke="#0b9c80" stroke-width="0.8"/>
<rect x="234.35" y="352.7" width="1.8" height="3.0" fill="#0b9c80"/>
<line x1="237.40" y1="351.0" x2="237.40" y2="354.8" stroke="#ee3043" stroke-width="0.8"/>
<rect x="236.50" y="352.7" width="1.8" height="1.5" fill="#ee3043"/>
<line x1="239.56" y1="348.2" x2="239.56" y2="356.6" stroke="#0b9c80" stroke-width="0.8"/>
<rect x="238.66" y="352.8" width="1.8" height="1.4" fill="#0b9c80"/>
<line x1="241.71" y1="352.2" x2="241.71" y2="354.9" stroke="#ee3043" stroke-width="0.8"/>
<rect x="240.81" y="352.8" width="1.8" height="0.7" fill="#ee3043"/>
<line x1="243.86" y1="351.0" x2="243.86" y2="353.5" stroke="#0b9c80" stroke-width="0.8"/>
<rect x="242.96" y="351.5" width="1.8" height="1.8" fill="#0b9c80"/>
<line x1="246.02" y1="343.3" x2="246.02" y2="353.2" stroke="#0b9c80" stroke-width="0.8"/>
<rect x="245.12" y="343.6" width="1.8" height="7.9" fill="#0b9c80"/>
<line x1="248.17" y1="338.5" x2="248.17" y2="345.0" stroke="#0b9c80" stroke-width="0.8"/>
<rect x="247.27" y="340.2" width="1.8" height="3.4" fill="#0b9c80"/>
<line x1="250.33" y1="339.4" x2="250.33" y2="341.8" stroke="#0b9c80" stroke-width="0.8"/>
<rect x="249.43" y="339.7" width="1.8" height="0.7" fill="#0b9c80"/>
<line x1="252.48" y1="338.8" x2="252.48" y2="341.5" stroke="#0b9c80" stroke-width="0.8"/>
<rect x="251.58" y="339.0" width="1.8" height="0.7" fill="#0b9c80"/>
<line x1="254.63" y1="337.9" x2="254.63" y2="342.2" stroke="#ee3043" stroke-width="0.8"/>
<rect x="253.73" y="339.0" width="1.8" height="2.6" fill="#ee3043"/>
<line x1="256.79" y1="339.8" x2="256.79" y2="342.3" stroke="#0b9c80" stroke-width="0.8"/>
<rect x="255.89" y="340.1" width="1.8" height="1.6" fill="#0b9c80"/>
<line x1="258.94" y1="337.9" x2="258.94" y2="342.2" stroke="#0b9c80" stroke-width="0.8"/>
<rect x="258.04" y="339.4" width="1.8" height="0.7" fill="#0b9c80"/>
<line x1="261.10" y1="338.0" x2="261.10" y2="341.2" stroke="#ee3043" stroke-width="0.8"/>
<rect x="260.20" y="339.4" width="1.8" height="1.6" fill="#ee3043"/>
<line x1="263.25" y1="337.6" x2="263.25" y2="342.5" stroke="#0b9c80" stroke-width="0.8"/>
<rect x="262.35" y="340.5" width="1.8" height="0.7" fill="#0b9c80"/>
<line x1="265.40" y1="338.4" x2="265.40" y2="343.2" stroke="#0b9c80" stroke-width="0.8"/>
<rect x="264.50" y="339.9" width="1.8" height="0.7" fill="#0b9c80"/>
<line x1="267.56" y1="332.1" x2="267.56" y2="341.9" stroke="#0b9c80" stroke-width="0.8"/>
<rect x="266.66" y="337.2" width="1.8" height="2.7" fill="#0b9c80"/>
<line x1="269.71" y1="327.3" x2="269.71" y2="337.8" stroke="#0b9c80" stroke-width="0.8"/>
<rect x="268.81" y="330.1" width="1.8" height="7.1" fill="#0b9c80"/>
<line x1="271.87" y1="324.2" x2="271.87" y2="332.5" stroke="#0b9c80" stroke-width="0.8"/>
<rect x="270.97" y="324.9" width="1.8" height="5.2" fill="#0b9c80"/>
<line x1="274.02" y1="317.7" x2="274.02" y2="327.4" stroke="#0b9c80" stroke-width="0.8"/>
<rect x="273.12" y="321.6" width="1.8" height="3.2" fill="#0b9c80"/>
<line x1="276.17" y1="312.2" x2="276.17" y2="322.3" stroke="#0b9c80" stroke-width="0.8"/>
<rect x="275.27" y="314.9" width="1.8" height="6.7" fill="#0b9c80"/>
<line x1="278.33" y1="307.5" x2="278.33" y2="317.7" stroke="#0b9c80" stroke-width="0.8"/>
<rect x="277.43" y="308.8" width="1.8" height="6.1" fill="#0b9c80"/>
<line x1="280.48" y1="306.5" x2="280.48" y2="311.0" stroke="#0b9c80" stroke-width="0.8"/>
<rect x="279.58" y="307.1" width="1.8" height="1.7" fill="#0b9c80"/>
<line x1="282.64" y1="302.5" x2="282.64" y2="308.6" stroke="#0b9c80" stroke-width="0.8"/>
<rect x="281.74" y="306.2" width="1.8" height="0.8" fill="#0b9c80"/>
<line x1="284.79" y1="300.1" x2="284.79" y2="309.1" stroke="#0b9c80" stroke-width="0.8"/>
<rect x="283.89" y="303.0" width="1.8" height="3.2" fill="#0b9c80"/>
<line x1="286.94" y1="300.6" x2="286.94" y2="305.1" stroke="#ee3043" stroke-width="0.8"/>
<rect x="286.04" y="303.0" width="1.8" height="1.4" fill="#ee3043"/>
<line x1="289.10" y1="302.7" x2="289.10" y2="321.8" stroke="#ee3043" stroke-width="0.8"/>
<rect x="288.20" y="304.4" width="1.8" height="16.1" fill="#ee3043"/>
<line x1="291.25" y1="320.1" x2="291.25" y2="326.6" stroke="#ee3043" stroke-width="0.8"/>
<rect x="290.35" y="320.5" width="1.8" height="5.3" fill="#ee3043"/>
<line x1="293.41" y1="323.6" x2="293.41" y2="327.3" stroke="#0b9c80" stroke-width="0.8"/>
<rect x="292.51" y="324.5" width="1.8" height="1.3" fill="#0b9c80"/>
<line x1="295.56" y1="319.1" x2="295.56" y2="326.7" stroke="#0b9c80" stroke-width="0.8"/>
<rect x="294.66" y="321.5" width="1.8" height="3.0" fill="#0b9c80"/>
<line x1="297.71" y1="311.1" x2="297.71" y2="322.8" stroke="#0b9c80" stroke-width="0.8"/>
<rect x="296.81" y="313.5" width="1.8" height="8.1" fill="#0b9c80"/>
<line x1="299.87" y1="311.0" x2="299.87" y2="315.2" stroke="#ee3043" stroke-width="0.8"/>
<rect x="298.97" y="313.5" width="1.8" height="0.7" fill="#ee3043"/>
<line x1="302.02" y1="303.6" x2="302.02" y2="317.0" stroke="#0b9c80" stroke-width="0.8"/>
<rect x="301.12" y="307.3" width="1.8" height="6.7" fill="#0b9c80"/>
<line x1="304.18" y1="305.6" x2="304.18" y2="308.0" stroke="#0b9c80" stroke-width="0.8"/>
<rect x="303.28" y="305.8" width="1.8" height="1.5" fill="#0b9c80"/>
<line x1="306.33" y1="304.9" x2="306.33" y2="307.0" stroke="#ee3043" stroke-width="0.8"/>
<rect x="305.43" y="305.8" width="1.8" height="0.9" fill="#ee3043"/>
<line x1="308.48" y1="304.8" x2="308.48" y2="310.0" stroke="#ee3043" stroke-width="0.8"/>
<rect x="307.58" y="306.7" width="1.8" height="1.5" fill="#ee3043"/>
<line x1="310.64" y1="307.3" x2="310.64" y2="314.2" stroke="#ee3043" stroke-width="0.8"/>
<rect x="309.74" y="308.2" width="1.8" height="5.6" fill="#ee3043"/>
<line x1="312.79" y1="312.1" x2="312.79" y2="317.7" stroke="#ee3043" stroke-width="0.8"/>
<rect x="311.89" y="313.8" width="1.8" height="3.3" fill="#ee3043"/>
<line x1="314.95" y1="309.4" x2="314.95" y2="319.4" stroke="#0b9c80" stroke-width="0.8"/>
<rect x="314.05" y="315.4" width="1.8" height="1.7" fill="#0b9c80"/>
<line x1="317.10" y1="311.9" x2="317.10" y2="318.9" stroke="#0b9c80" stroke-width="0.8"/>
<rect x="316.20" y="312.2" width="1.8" height="3.2" fill="#0b9c80"/>
<line x1="319.25" y1="308.9" x2="319.25" y2="312.7" stroke="#0b9c80" stroke-width="0.8"/>
<rect x="318.35" y="309.6" width="1.8" height="2.6" fill="#0b9c80"/>
<line x1="321.41" y1="302.4" x2="321.41" y2="310.3" stroke="#0b9c80" stroke-width="0.8"/>
<rect x="320.51" y="305.7" width="1.8" height="3.9" fill="#0b9c80"/>
<line x1="323.56" y1="303.3" x2="323.56" y2="307.0" stroke="#0b9c80" stroke-width="0.8"/>
<rect x="322.66" y="304.2" width="1.8" height="1.5" fill="#0b9c80"/>
<line x1="325.72" y1="298.6" x2="325.72" y2="304.5" stroke="#0b9c80" stroke-width="0.8"/>
<rect x="324.82" y="300.2" width="1.8" height="4.0" fill="#0b9c80"/>
<line x1="327.87" y1="291.7" x2="327.87" y2="300.7" stroke="#0b9c80" stroke-width="0.8"/>
<rect x="326.97" y="294.0" width="1.8" height="6.2" fill="#0b9c80"/>
<line x1="330.02" y1="289.4" x2="330.02" y2="295.9" stroke="#0b9c80" stroke-width="0.8"/>
<rect x="329.12" y="289.7" width="1.8" height="4.2" fill="#0b9c80"/>
<line x1="332.18" y1="287.4" x2="332.18" y2="291.7" stroke="#0b9c80" stroke-width="0.8"/>
<rect x="331.28" y="288.4" width="1.8" height="1.4" fill="#0b9c80"/>
<line x1="334.33" y1="285.1" x2="334.33" y2="305.8" stroke="#ee3043" stroke-width="0.8"/>
<rect x="333.43" y="288.4" width="1.8" height="16.4" fill="#ee3043"/>
<line x1="336.49" y1="303.0" x2="336.49" y2="311.0" stroke="#ee3043" stroke-width="0.8"/>
<rect x="335.59" y="304.8" width="1.8" height="3.5" fill="#ee3043"/>
<line x1="338.64" y1="305.7" x2="338.64" y2="309.6" stroke="#0b9c80" stroke-width="0.8"/>
<rect x="337.74" y="306.2" width="1.8" height="2.1" fill="#0b9c80"/>
<line x1="340.79" y1="304.8" x2="340.79" y2="307.6" stroke="#0b9c80" stroke-width="0.8"/>
<rect x="339.89" y="305.2" width="1.8" height="1.0" fill="#0b9c80"/>
<line x1="342.95" y1="302.8" x2="342.95" y2="310.7" stroke="#0b9c80" stroke-width="0.8"/>
<rect x="342.05" y="303.9" width="1.8" height="1.3" fill="#0b9c80"/>
<line x1="345.10" y1="301.1" x2="345.10" y2="306.6" stroke="#0b9c80" stroke-width="0.8"/>
<rect x="344.20" y="302.0" width="1.8" height="1.9" fill="#0b9c80"/>
<line x1="347.26" y1="296.5" x2="347.26" y2="304.9" stroke="#0b9c80" stroke-width="0.8"/>
<rect x="346.36" y="297.0" width="1.8" height="5.1" fill="#0b9c80"/>
<line x1="349.41" y1="288.9" x2="349.41" y2="299.0" stroke="#0b9c80" stroke-width="0.8"/>
<rect x="348.51" y="294.8" width="1.8" height="2.2" fill="#0b9c80"/>
<line x1="351.56" y1="294.0" x2="351.56" y2="300.6" stroke="#ee3043" stroke-width="0.8"/>
<rect x="350.66" y="294.8" width="1.8" height="4.2" fill="#ee3043"/>
<line x1="353.72" y1="287.5" x2="353.72" y2="300.0" stroke="#0b9c80" stroke-width="0.8"/>
<rect x="352.82" y="293.3" width="1.8" height="5.7" fill="#0b9c80"/>
<line x1="355.87" y1="290.1" x2="355.87" y2="299.9" stroke="#ee3043" stroke-width="0.8"/>
<rect x="354.97" y="293.3" width="1.8" height="0.7" fill="#ee3043"/>
<line x1="358.03" y1="290.7" x2="358.03" y2="297.0" stroke="#0b9c80" stroke-width="0.8"/>
<rect x="357.13" y="291.8" width="1.8" height="2.0" fill="#0b9c80"/>
<line x1="360.18" y1="284.2" x2="360.18" y2="297.2" stroke="#0b9c80" stroke-width="0.8"/>
<rect x="359.28" y="287.8" width="1.8" height="4.1" fill="#0b9c80"/>
<line x1="362.33" y1="280.7" x2="362.33" y2="288.5" stroke="#0b9c80" stroke-width="0.8"/>
<rect x="361.43" y="281.2" width="1.8" height="6.6" fill="#0b9c80"/>
<line x1="364.49" y1="270.4" x2="364.49" y2="283.8" stroke="#0b9c80" stroke-width="0.8"/>
<rect x="363.59" y="272.5" width="1.8" height="8.7" fill="#0b9c80"/>
<line x1="366.64" y1="269.9" x2="366.64" y2="272.9" stroke="#0b9c80" stroke-width="0.8"/>
<rect x="365.74" y="271.9" width="1.8" height="0.7" fill="#0b9c80"/>
<line x1="368.80" y1="271.7" x2="368.80" y2="279.1" stroke="#ee3043" stroke-width="0.8"/>
<rect x="367.90" y="271.9" width="1.8" height="4.1" fill="#ee3043"/>
<line x1="370.95" y1="275.7" x2="370.95" y2="277.6" stroke="#ee3043" stroke-width="0.8"/>
<rect x="370.05" y="276.0" width="1.8" height="0.9" fill="#ee3043"/>
<line x1="373.10" y1="275.4" x2="373.10" y2="290.0" stroke="#ee3043" stroke-width="0.8"/>
<rect x="372.20" y="276.9" width="1.8" height="11.7" fill="#ee3043"/>
<line x1="375.26" y1="286.7" x2="375.26" y2="291.6" stroke="#ee3043" stroke-width="0.8"/>
<rect x="374.36" y="288.6" width="1.8" height="2.7" fill="#ee3043"/>
<line x1="377.41" y1="290.5" x2="377.41" y2="292.2" stroke="#0b9c80" stroke-width="0.8"/>
<rect x="376.51" y="290.9" width="1.8" height="0.7" fill="#0b9c80"/>
<line x1="379.57" y1="287.9" x2="379.57" y2="294.5" stroke="#0b9c80" stroke-width="0.8"/>
<rect x="378.67" y="289.2" width="1.8" height="1.7" fill="#0b9c80"/>
<line x1="381.72" y1="281.6" x2="381.72" y2="291.1" stroke="#0b9c80" stroke-width="0.8"/>
<rect x="380.82" y="283.6" width="1.8" height="5.6" fill="#0b9c80"/>
<line x1="383.87" y1="281.0" x2="383.87" y2="285.5" stroke="#0b9c80" stroke-width="0.8"/>
<rect x="382.97" y="282.4" width="1.8" height="1.2" fill="#0b9c80"/>
<line x1="386.03" y1="274.5" x2="386.03" y2="286.1" stroke="#0b9c80" stroke-width="0.8"/>
<rect x="385.13" y="276.5" width="1.8" height="5.9" fill="#0b9c80"/>
<line x1="388.18" y1="276.3" x2="388.18" y2="279.1" stroke="#ee3043" stroke-width="0.8"/>
<rect x="387.28" y="276.5" width="1.8" height="0.7" fill="#ee3043"/>
<line x1="390.34" y1="274.9" x2="390.34" y2="278.4" stroke="#0b9c80" stroke-width="0.8"/>
<rect x="389.44" y="276.0" width="1.8" height="1.0" fill="#0b9c80"/>
<line x1="392.49" y1="268.7" x2="392.49" y2="277.3" stroke="#0b9c80" stroke-width="0.8"/>
<rect x="391.59" y="269.2" width="1.8" height="6.8" fill="#0b9c80"/>
<line x1="394.64" y1="263.7" x2="394.64" y2="271.3" stroke="#0b9c80" stroke-width="0.8"/>
<rect x="393.74" y="265.8" width="1.8" height="3.4" fill="#0b9c80"/>
<line x1="396.80" y1="262.1" x2="396.80" y2="266.3" stroke="#0b9c80" stroke-width="0.8"/>
<rect x="395.90" y="263.1" width="1.8" height="2.7" fill="#0b9c80"/>
<line x1="398.95" y1="256.1" x2="398.95" y2="264.3" stroke="#0b9c80" stroke-width="0.8"/>
<rect x="398.05" y="259.6" width="1.8" height="3.5" fill="#0b9c80"/>
<line x1="401.11" y1="250.9" x2="401.11" y2="265.6" stroke="#0b9c80" stroke-width="0.8"/>
<rect x="400.21" y="253.6" width="1.8" height="6.0" fill="#0b9c80"/>
<line x1="403.26" y1="233.7" x2="403.26" y2="255.5" stroke="#0b9c80" stroke-width="0.8"/>
<rect x="402.36" y="235.6" width="1.8" height="18.0" fill="#0b9c80"/>
<line x1="405.41" y1="229.7" x2="405.41" y2="242.1" stroke="#0b9c80" stroke-width="0.8"/>
<rect x="404.51" y="233.9" width="1.8" height="1.7" fill="#0b9c80"/>
<line x1="407.57" y1="227.7" x2="407.57" y2="238.9" stroke="#0b9c80" stroke-width="0.8"/>
<rect x="406.67" y="231.7" width="1.8" height="2.2" fill="#0b9c80"/>
<line x1="409.72" y1="230.0" x2="409.72" y2="239.5" stroke="#ee3043" stroke-width="0.8"/>
<rect x="408.82" y="231.7" width="1.8" height="2.9" fill="#ee3043"/>
<line x1="411.88" y1="228.9" x2="411.88" y2="239.7" stroke="#0b9c80" stroke-width="0.8"/>
<rect x="410.98" y="230.6" width="1.8" height="3.9" fill="#0b9c80"/>
<line x1="414.03" y1="211.8" x2="414.03" y2="232.5" stroke="#0b9c80" stroke-width="0.8"/>
<rect x="413.13" y="213.7" width="1.8" height="16.9" fill="#0b9c80"/>
<line x1="416.18" y1="211.4" x2="416.18" y2="221.7" stroke="#ee3043" stroke-width="0.8"/>
<rect x="415.28" y="213.7" width="1.8" height="0.7" fill="#ee3043"/>
<line x1="418.34" y1="202.6" x2="418.34" y2="217.1" stroke="#0b9c80" stroke-width="0.8"/>
<rect x="417.44" y="205.2" width="1.8" height="9.1" fill="#0b9c80"/>
<line x1="420.49" y1="198.2" x2="420.49" y2="207.0" stroke="#0b9c80" stroke-width="0.8"/>
<rect x="419.59" y="201.2" width="1.8" height="4.0" fill="#0b9c80"/>
<line x1="422.65" y1="198.6" x2="422.65" y2="206.5" stroke="#ee3043" stroke-width="0.8"/>
<rect x="421.75" y="201.2" width="1.8" height="4.5" fill="#ee3043"/>
<line x1="424.80" y1="196.4" x2="424.80" y2="212.6" stroke="#ee3043" stroke-width="0.8"/>
<rect x="423.90" y="205.7" width="1.8" height="6.4" fill="#ee3043"/>
<line x1="426.95" y1="207.1" x2="426.95" y2="219.9" stroke="#ee3043" stroke-width="0.8"/>
<rect x="426.05" y="212.1" width="1.8" height="6.4" fill="#ee3043"/>
<line x1="429.11" y1="214.4" x2="429.11" y2="228.7" stroke="#ee3043" stroke-width="0.8"/>
<rect x="428.21" y="218.4" width="1.8" height="8.5" fill="#ee3043"/>
<line x1="431.26" y1="225.0" x2="431.26" y2="228.3" stroke="#0b9c80" stroke-width="0.8"/>
<rect x="430.36" y="226.3" width="1.8" height="0.7" fill="#0b9c80"/>
<line x1="433.42" y1="215.5" x2="433.42" y2="229.7" stroke="#0b9c80" stroke-width="0.8"/>
<rect x="432.52" y="217.6" width="1.8" height="8.8" fill="#0b9c80"/>
<line x1="435.57" y1="205.7" x2="435.57" y2="219.1" stroke="#0b9c80" stroke-width="0.8"/>
<rect x="434.67" y="208.1" width="1.8" height="9.4" fill="#0b9c80"/>
<line x1="437.72" y1="193.5" x2="437.72" y2="212.1" stroke="#0b9c80" stroke-width="0.8"/>
<rect x="436.82" y="201.1" width="1.8" height="7.0" fill="#0b9c80"/>
<line x1="439.88" y1="198.2" x2="439.88" y2="202.8" stroke="#0b9c80" stroke-width="0.8"/>
<rect x="438.98" y="198.5" width="1.8" height="2.6" fill="#0b9c80"/>
<line x1="442.03" y1="190.9" x2="442.03" y2="201.5" stroke="#0b9c80" stroke-width="0.8"/>
<rect x="441.13" y="192.9" width="1.8" height="5.6" fill="#0b9c80"/>
<line x1="444.19" y1="186.2" x2="444.19" y2="195.4" stroke="#0b9c80" stroke-width="0.8"/>
<rect x="443.29" y="188.2" width="1.8" height="4.7" fill="#0b9c80"/>
<line x1="446.34" y1="186.7" x2="446.34" y2="219.6" stroke="#ee3043" stroke-width="0.8"/>
<rect x="445.44" y="188.2" width="1.8" height="30.9" fill="#ee3043"/>
<line x1="448.49" y1="209.2" x2="448.49" y2="223.5" stroke="#0b9c80" stroke-width="0.8"/>
<rect x="447.59" y="213.7" width="1.8" height="5.4" fill="#0b9c80"/>
<line x1="450.65" y1="208.2" x2="450.65" y2="216.8" stroke="#0b9c80" stroke-width="0.8"/>
<rect x="449.75" y="212.0" width="1.8" height="1.7" fill="#0b9c80"/>
<line x1="452.80" y1="205.5" x2="452.80" y2="215.5" stroke="#0b9c80" stroke-width="0.8"/>
<rect x="451.90" y="207.5" width="1.8" height="4.5" fill="#0b9c80"/>
<line x1="454.96" y1="206.8" x2="454.96" y2="210.5" stroke="#ee3043" stroke-width="0.8"/>
<rect x="454.06" y="207.5" width="1.8" height="2.2" fill="#ee3043"/>
<line x1="457.11" y1="208.5" x2="457.11" y2="216.4" stroke="#ee3043" stroke-width="0.8"/>
<rect x="456.21" y="209.7" width="1.8" height="5.0" fill="#ee3043"/>
<line x1="459.26" y1="202.2" x2="459.26" y2="217.7" stroke="#0b9c80" stroke-width="0.8"/>
<rect x="458.36" y="211.1" width="1.8" height="3.6" fill="#0b9c80"/>
<line x1="461.42" y1="204.7" x2="461.42" y2="215.9" stroke="#0b9c80" stroke-width="0.8"/>
<rect x="460.52" y="207.8" width="1.8" height="3.3" fill="#0b9c80"/>
<line x1="463.57" y1="190.0" x2="463.57" y2="208.6" stroke="#0b9c80" stroke-width="0.8"/>
<rect x="462.67" y="195.3" width="1.8" height="12.5" fill="#0b9c80"/>
<line x1="465.73" y1="171.8" x2="465.73" y2="195.5" stroke="#0b9c80" stroke-width="0.8"/>
<rect x="464.83" y="175.0" width="1.8" height="20.3" fill="#0b9c80"/>
<line x1="467.88" y1="169.3" x2="467.88" y2="184.0" stroke="#0b9c80" stroke-width="0.8"/>
<rect x="466.98" y="173.3" width="1.8" height="1.6" fill="#0b9c80"/>
<line x1="470.03" y1="170.0" x2="470.03" y2="181.0" stroke="#ee3043" stroke-width="0.8"/>
<rect x="469.13" y="173.3" width="1.8" height="3.0" fill="#ee3043"/>
<line x1="472.19" y1="170.0" x2="472.19" y2="182.9" stroke="#ee3043" stroke-width="0.8"/>
<rect x="471.29" y="176.4" width="1.8" height="0.7" fill="#ee3043"/>
<line x1="474.34" y1="167.4" x2="474.34" y2="180.5" stroke="#0b9c80" stroke-width="0.8"/>
<rect x="473.44" y="168.8" width="1.8" height="8.0" fill="#0b9c80"/>
<line x1="476.50" y1="166.0" x2="476.50" y2="170.4" stroke="#ee3043" stroke-width="0.8"/>
<rect x="475.60" y="168.8" width="1.8" height="1.3" fill="#ee3043"/>
<line x1="478.65" y1="169.9" x2="478.65" y2="178.1" stroke="#ee3043" stroke-width="0.8"/>
<rect x="477.75" y="170.1" width="1.8" height="1.0" fill="#ee3043"/>
<line x1="480.80" y1="165.5" x2="480.80" y2="180.2" stroke="#ee3043" stroke-width="0.8"/>
<rect x="479.90" y="171.1" width="1.8" height="5.6" fill="#ee3043"/>
<line x1="482.96" y1="157.7" x2="482.96" y2="179.7" stroke="#0b9c80" stroke-width="0.8"/>
<rect x="482.06" y="164.7" width="1.8" height="11.9" fill="#0b9c80"/>
<line x1="485.11" y1="160.4" x2="485.11" y2="166.7" stroke="#0b9c80" stroke-width="0.8"/>
<rect x="484.21" y="161.1" width="1.8" height="3.6" fill="#0b9c80"/>
<line x1="487.27" y1="150.3" x2="487.27" y2="167.4" stroke="#0b9c80" stroke-width="0.8"/>
<rect x="486.37" y="152.0" width="1.8" height="9.2" fill="#0b9c80"/>
<line x1="489.42" y1="150.9" x2="489.42" y2="165.3" stroke="#ee3043" stroke-width="0.8"/>
<rect x="488.52" y="152.0" width="1.8" height="7.2" fill="#ee3043"/>
<line x1="491.57" y1="156.8" x2="491.57" y2="172.7" stroke="#ee3043" stroke-width="0.8"/>
<rect x="490.67" y="159.2" width="1.8" height="9.3" fill="#ee3043"/>
<line x1="493.73" y1="155.2" x2="493.73" y2="173.5" stroke="#0b9c80" stroke-width="0.8"/>
<rect x="492.83" y="160.7" width="1.8" height="7.8" fill="#0b9c80"/>
<line x1="495.88" y1="153.7" x2="495.88" y2="167.7" stroke="#0b9c80" stroke-width="0.8"/>
<rect x="494.98" y="155.3" width="1.8" height="5.4" fill="#0b9c80"/>
<line x1="498.04" y1="141.7" x2="498.04" y2="156.5" stroke="#0b9c80" stroke-width="0.8"/>
<rect x="497.14" y="143.6" width="1.8" height="11.6" fill="#0b9c80"/>
<line x1="500.19" y1="128.4" x2="500.19" y2="146.0" stroke="#0b9c80" stroke-width="0.8"/>
<rect x="499.29" y="138.0" width="1.8" height="5.6" fill="#0b9c80"/>
<line x1="502.34" y1="135.0" x2="502.34" y2="144.8" stroke="#ee3043" stroke-width="0.8"/>
<rect x="501.44" y="138.0" width="1.8" height="4.4" fill="#ee3043"/>
<line x1="504.50" y1="140.0" x2="504.50" y2="157.0" stroke="#ee3043" stroke-width="0.8"/>
<rect x="503.60" y="142.4" width="1.8" height="10.3" fill="#ee3043"/>
<line x1="506.65" y1="124.6" x2="506.65" y2="154.1" stroke="#0b9c80" stroke-width="0.8"/>
<rect x="505.75" y="129.8" width="1.8" height="22.9" fill="#0b9c80"/>
<line x1="508.81" y1="102.4" x2="508.81" y2="136.5" stroke="#0b9c80" stroke-width="0.8"/>
<rect x="507.91" y="118.0" width="1.8" height="11.8" fill="#0b9c80"/>
<line x1="510.96" y1="94.0" x2="510.96" y2="120.0" stroke="#0b9c80" stroke-width="0.8"/>
<rect x="510.06" y="96.0" width="1.8" height="22.0" fill="#0b9c80"/>
<line x1="513.11" y1="87.0" x2="513.11" y2="104.0" stroke="#0b9c80" stroke-width="0.8"/>
<rect x="512.21" y="90.0" width="1.8" height="10.0" fill="#0b9c80"/>
<line x1="515.27" y1="88.0" x2="515.27" y2="104.0" stroke="#ee3043" stroke-width="0.8"/>
<rect x="514.37" y="90.0" width="1.8" height="10.0" fill="#ee3043"/>
<line x1="517.42" y1="86.0" x2="517.42" y2="103.0" stroke="#0b9c80" stroke-width="0.8"/>
<rect x="516.52" y="92.0" width="1.8" height="8.0" fill="#0b9c80"/>
<line x1="519.58" y1="104.0" x2="519.58" y2="160.0" stroke="#ee3043" stroke-width="0.8"/>
<rect x="518.68" y="106.0" width="1.8" height="49.0" fill="#ee3043"/>
<line x1="521.73" y1="150.0" x2="521.73" y2="193.0" stroke="#0b9c80" stroke-width="0.8"/>
<rect x="520.83" y="152.0" width="1.8" height="20.0" fill="#0b9c80"/>
<line x1="523.88" y1="128.0" x2="523.88" y2="156.0" stroke="#0b9c80" stroke-width="0.8"/>
<rect x="522.98" y="130.0" width="1.8" height="22.0" fill="#0b9c80"/>
<line x1="526.04" y1="116.0" x2="526.04" y2="139.0" stroke="#0b9c80" stroke-width="0.8"/>
<rect x="525.14" y="118.0" width="1.8" height="19.0" fill="#0b9c80"/>
<line x1="528.19" y1="105.0" x2="528.19" y2="120.0" stroke="#0b9c80" stroke-width="0.8"/>
<rect x="527.29" y="107.0" width="1.8" height="11.0" fill="#0b9c80"/>
<line x1="530.35" y1="82.5" x2="530.35" y2="109.0" stroke="#0b9c80" stroke-width="0.8"/>
<rect x="529.45" y="83.5" width="1.8" height="24.5" fill="#0b9c80"/>
<line x1="532.50" y1="75.4" x2="532.50" y2="86.2" stroke="#ee3043" stroke-width="0.8"/>
<rect x="531.60" y="77.4" width="1.8" height="8.6" fill="#ee3043"/>
</g>
<line x1="44" y1="86.0" x2="658" y2="86.0" stroke="#7d2d2c" stroke-width="0.6" stroke-dasharray="1.2,1.2"/>
<line x1="44" y1="106.1" x2="632.5" y2="106.1" stroke="#2a56c6" stroke-width="1.7"/>
<text x="635.5" y="108.39999999999999" font-size="6.8" fill="#3d6df2" font-weight="bold" textLength="18.8" lengthAdjust="spacingAndGlyphs">Strike</text>
<line x1="655.5" y1="106.1" x2="659" y2="106.1" stroke="#2a56c6" stroke-width="1"/>
<line x1="44" y1="248.9" x2="625" y2="248.9" stroke="#3f8f3a" stroke-width="1.3"/>
<circle cx="597" cy="248.9" r="2.7" fill="#111111" stroke="#2f5fd0" stroke-width="1.2"/>
<text x="628" y="251.20000000000002" font-size="7" fill="#4caf50" font-weight="bold" textLength="27" lengthAdjust="spacingAndGlyphs">Barriera</text>
<line x1="656" y1="248.9" x2="659" y2="248.9" stroke="#3f8f3a" stroke-width="1"/>
<path d="M297.2 339.6h5.6M300 336.8v5.6" stroke="#2f6bff" stroke-width="1.4"/>
<g filter="url(#tb)">
<rect x="658" y="44" width="24" height="354.2" fill="#111111"/>
<rect x="44" y="389.8" width="638" height="8.399999999999977" fill="#111111"/>
<text x="662.3" y="58.0" font-size="6.1" fill="#c9ccd3" opacity="0.35" textLength="13.4" lengthAdjust="spacingAndGlyphs">8,500</text>
<text x="662.3" y="79.6" font-size="6.1" fill="#c9ccd3" textLength="13.4" lengthAdjust="spacingAndGlyphs">8,000</text>
<text x="662.3" y="101.2" font-size="6.1" fill="#c9ccd3" textLength="13.4" lengthAdjust="spacingAndGlyphs">7,500</text>
<text x="662.3" y="122.8" font-size="6.1" fill="#c9ccd3" textLength="13.4" lengthAdjust="spacingAndGlyphs">7,000</text>
<text x="662.3" y="144.4" font-size="6.1" fill="#c9ccd3" textLength="13.4" lengthAdjust="spacingAndGlyphs">6,500</text>
<text x="662.3" y="166.0" font-size="6.1" fill="#c9ccd3" textLength="13.4" lengthAdjust="spacingAndGlyphs">6,000</text>
<text x="662.3" y="187.6" font-size="6.1" fill="#c9ccd3" textLength="13.4" lengthAdjust="spacingAndGlyphs">5,500</text>
<text x="662.3" y="209.3" font-size="6.1" fill="#c9ccd3" textLength="13.4" lengthAdjust="spacingAndGlyphs">5,000</text>
<text x="662.3" y="230.9" font-size="6.1" fill="#c9ccd3" textLength="13.4" lengthAdjust="spacingAndGlyphs">4,500</text>
<text x="662.3" y="274.1" font-size="6.1" fill="#c9ccd3" textLength="13.4" lengthAdjust="spacingAndGlyphs">3,500</text>
<text x="662.3" y="295.7" font-size="6.1" fill="#c9ccd3" textLength="13.4" lengthAdjust="spacingAndGlyphs">3,000</text>
<text x="662.3" y="317.3" font-size="6.1" fill="#c9ccd3" textLength="13.4" lengthAdjust="spacingAndGlyphs">2,500</text>
<text x="662.3" y="338.9" font-size="6.1" fill="#c9ccd3" textLength="15.8" lengthAdjust="spacingAndGlyphs">2,0000</text>
<text x="662.3" y="360.5" font-size="6.1" fill="#c9ccd3" textLength="15.8" lengthAdjust="spacingAndGlyphs">1,5000</text>
<text x="662.3" y="382.1" font-size="6.1" fill="#c9ccd3" textLength="15.8" lengthAdjust="spacingAndGlyphs">1,0000</text>
<rect x="659" y="82.3" width="19" height="13.5" fill="#ee3645"/>
<text x="662.3" y="88.3" font-size="6.1" fill="#fff" font-weight="bold" textLength="13.4" lengthAdjust="spacingAndGlyphs">7,802</text>
<text x="668.5" y="94" font-size="5.2" fill="#ffd0d0" text-anchor="middle">4d 2h</text>
<rect x="659" y="102.6" width="19" height="7" fill="#2962ff"/>
<text x="662.3" y="108.3" font-size="6.1" fill="#fff" font-weight="bold" textLength="13.4" lengthAdjust="spacingAndGlyphs">7,348</text>
<rect x="659" y="163.0" width="19" height="7" fill="#f57c00"/>
<text x="662.3" y="168.7" font-size="6.1" fill="#fff" font-weight="bold" textLength="13.4" lengthAdjust="spacingAndGlyphs">5,947</text>
<rect x="659" y="245.4" width="19" height="7" fill="#4caf50"/>
<text x="662.3" y="251.1" font-size="6.1" fill="#fff" font-weight="bold" textLength="13.4" lengthAdjust="spacingAndGlyphs">4,041</text>
<rect x="680" y="248.4" width="2" height="1" fill="#2a56c6"/>
<rect x="659" y="276.8" width="19" height="7" fill="#43a047"/>
<text x="662.3" y="282.5" font-size="6.1" fill="#fff" font-weight="bold" textLength="13.4" lengthAdjust="spacingAndGlyphs">3,314</text>
<rect x="659" y="336.0" width="23" height="7" fill="#2962ff"/>
<text x="662.3" y="341.7" font-size="6.1" fill="#fff" font-weight="bold" textLength="15.8" lengthAdjust="spacingAndGlyphs">1,9386</text>
<rect x="659" y="378.1" width="23" height="7" fill="#ee3645"/>
<text x="662.3" y="383.8" font-size="6.1" fill="#fff" font-weight="bold" textLength="15.8" lengthAdjust="spacingAndGlyphs">16,62M</text>
<rect x="660.5" y="44" width="21.5" height="12.2" fill="#111111"/>
<path d="M660.5 44v9.6h21.5" fill="none" stroke="#2b2b2b" stroke-width="0.7"/>
<text x="662" y="51.1" font-size="6.6" fill="#e6e8ec" textLength="9.8" lengthAdjust="spacingAndGlyphs">EUR</text>
<path d="M677.6 48.1h2.9l-1.45 1.7z" fill="#c8c8c8"/>
<text x="43.8" y="397.4" font-size="6" fill="#d6d8de" textLength="5.6" lengthAdjust="spacingAndGlyphs">21</text>
<text x="95.1" y="397.4" font-size="6" fill="#d6d8de" textLength="8.8" lengthAdjust="spacingAndGlyphs">Lug</text>
<text x="150.1" y="397.4" font-size="6" fill="#d6d8de" textLength="11.2" lengthAdjust="spacingAndGlyphs">2022</text>
<text x="206.8" y="397.4" font-size="6" fill="#d6d8de" textLength="8.8" lengthAdjust="spacingAndGlyphs">Lug</text>
<text x="261.8" y="397.4" font-size="6" fill="#d6d8de" textLength="11.2" lengthAdjust="spacingAndGlyphs">2023</text>
<text x="319.1" y="397.4" font-size="6" fill="#d6d8de" textLength="8.8" lengthAdjust="spacingAndGlyphs">Lug</text>
<text x="374.1" y="397.4" font-size="6" fill="#d6d8de" textLength="11.2" lengthAdjust="spacingAndGlyphs">2024</text>
<text x="430.8" y="397.4" font-size="6" fill="#d6d8de" textLength="8.8" lengthAdjust="spacingAndGlyphs">Lug</text>
<text x="487.8" y="397.4" font-size="6" fill="#d6d8de" textLength="11.2" lengthAdjust="spacingAndGlyphs">2025</text>
<text x="544.9" y="397.4" font-size="6" fill="#d6d8de" textLength="8.8" lengthAdjust="spacingAndGlyphs">Lug</text>
<text x="599.9" y="397.4" font-size="6" fill="#d6d8de" textLength="11.2" lengthAdjust="spacingAndGlyphs">2026</text>
<circle cx="671.6" cy="395.3" r="2.2" fill="none" stroke="#9a9a9a" stroke-width="0.7"/><circle cx="671.6" cy="395.3" r="0.8" fill="none" stroke="#9a9a9a" stroke-width="0.5"/>
<circle cx="87.6" cy="384.1" r="3.6" fill="#10153a" stroke="#2343e0" stroke-width="1.1"/>
<text x="87.6" y="385.8" font-size="4.6" fill="#2e50f0" text-anchor="middle" font-weight="bold">D</text>
<circle cx="200.0" cy="384.1" r="3.6" fill="#10153a" stroke="#2343e0" stroke-width="1.1"/>
<circle cx="312.5" cy="384.1" r="3.6" fill="#10153a" stroke="#2343e0" stroke-width="1.1"/>
<circle cx="424.5" cy="384.1" r="3.6" fill="#10153a" stroke="#2343e0" stroke-width="1.1"/>
<circle cx="536.2" cy="384.1" r="3.6" fill="#10153a" stroke="#2343e0" stroke-width="1.1"/>
<rect x="162.9" y="380.3" width="7.6" height="8" rx="1.3" fill="#1e1e1e" stroke="#a6a6a6" stroke-width="0.9"/>
<text x="165.25" y="386.5" font-size="6" fill="#f0f0f0" font-weight="bold" textLength="2.9" lengthAdjust="spacingAndGlyphs">E</text>
<rect x="190.8" y="380.3" width="7.6" height="8" rx="1.3" fill="#1e1e1e" stroke="#a6a6a6" stroke-width="0.9"/>
<text x="193.15" y="386.5" font-size="6" fill="#f0f0f0" font-weight="bold" textLength="2.9" lengthAdjust="spacingAndGlyphs">E</text>
<rect x="216.5" y="380.3" width="7.6" height="8" rx="1.3" fill="#1e1e1e" stroke="#a6a6a6" stroke-width="0.9"/>
<text x="218.85" y="386.5" font-size="6" fill="#f0f0f0" font-weight="bold" textLength="2.9" lengthAdjust="spacingAndGlyphs">E</text>
<rect x="246.8" y="380.3" width="7.6" height="8" rx="1.3" fill="#1e1e1e" stroke="#a6a6a6" stroke-width="0.9"/>
<text x="249.15" y="386.5" font-size="6" fill="#f0f0f0" font-weight="bold" textLength="2.9" lengthAdjust="spacingAndGlyphs">E</text>
<rect x="275.0" y="380.3" width="7.6" height="8" rx="1.3" fill="#1e1e1e" stroke="#a6a6a6" stroke-width="0.9"/>
<text x="277.35" y="386.5" font-size="6" fill="#f0f0f0" font-weight="bold" textLength="2.9" lengthAdjust="spacingAndGlyphs">E</text>
<rect x="302.5" y="380.3" width="7.6" height="8" rx="1.3" fill="#1e1e1e" stroke="#a6a6a6" stroke-width="0.9"/>
<text x="304.85" y="386.5" font-size="6" fill="#f0f0f0" font-weight="bold" textLength="2.9" lengthAdjust="spacingAndGlyphs">E</text>
<rect x="327.9" y="380.3" width="7.6" height="8" rx="1.3" fill="#1e1e1e" stroke="#a6a6a6" stroke-width="0.9"/>
<text x="330.25" y="386.5" font-size="6" fill="#f0f0f0" font-weight="bold" textLength="2.9" lengthAdjust="spacingAndGlyphs">E</text>
<rect x="358.7" y="380.3" width="7.6" height="8" rx="1.3" fill="#1e1e1e" stroke="#a6a6a6" stroke-width="0.9"/>
<text x="361.05" y="386.5" font-size="6" fill="#f0f0f0" font-weight="bold" textLength="2.9" lengthAdjust="spacingAndGlyphs">E</text>
<rect x="414.5" y="380.3" width="7.6" height="8" rx="1.3" fill="#1e1e1e" stroke="#a6a6a6" stroke-width="0.9"/>
<text x="416.85" y="386.5" font-size="6" fill="#f0f0f0" font-weight="bold" textLength="2.9" lengthAdjust="spacingAndGlyphs">E</text>
<rect x="443.0" y="380.3" width="7.6" height="8" rx="1.3" fill="#1e1e1e" stroke="#a6a6a6" stroke-width="0.9"/>
<text x="445.35" y="386.5" font-size="6" fill="#f0f0f0" font-weight="bold" textLength="2.9" lengthAdjust="spacingAndGlyphs">E</text>
<rect x="470.4" y="380.3" width="7.6" height="8" rx="1.3" fill="#1e1e1e" stroke="#a6a6a6" stroke-width="0.9"/>
<text x="472.75" y="386.5" font-size="6" fill="#f0f0f0" font-weight="bold" textLength="2.9" lengthAdjust="spacingAndGlyphs">E</text>
<rect x="498.5" y="380.3" width="7.6" height="8" rx="1.3" fill="#1e1e1e" stroke="#a6a6a6" stroke-width="0.9"/>
<text x="500.85" y="386.5" font-size="6" fill="#f0f0f0" font-weight="bold" textLength="2.9" lengthAdjust="spacingAndGlyphs">E</text>
<path d="M76.8 380.4h7.6v5.4l-3.8 3l-3.8-3z" fill="#2c0f10" stroke="#d2343a" stroke-width="0.9" stroke-linejoin="round"/>
<text x="79.15" y="385.8" font-size="6" fill="#d2343a" font-weight="bold" textLength="2.9" lengthAdjust="spacingAndGlyphs">E</text>
<path d="M104.8 380.4h7.6v5.4l-3.8 3l-3.8-3z" fill="#2c0f10" stroke="#d2343a" stroke-width="0.9" stroke-linejoin="round"/>
<text x="107.15" y="385.8" font-size="6" fill="#d2343a" font-weight="bold" textLength="2.9" lengthAdjust="spacingAndGlyphs">E</text>
<path d="M133.1 388.9h7.6v-5.9l-3.8-3.4l-3.8 3.4z" fill="#0c2e2a" stroke="#1d8f7e" stroke-width="0.9" stroke-linejoin="round"/>
<text x="135.45" y="387.2" font-size="6" fill="#1d8f7e" font-weight="bold" textLength="2.9" lengthAdjust="spacingAndGlyphs">E</text>
<path d="M386.4 388.9h7.6v-5.9l-3.8-3.4l-3.8 3.4z" fill="#0c2e2a" stroke="#1d8f7e" stroke-width="0.9" stroke-linejoin="round"/>
<text x="388.75" y="387.2" font-size="6" fill="#1d8f7e" font-weight="bold" textLength="2.9" lengthAdjust="spacingAndGlyphs">E</text>
<path d="M526.8 388.9h7.6v-5.9l-3.8-3.4l-3.8 3.4z" fill="#0c2e2a" stroke="#1d8f7e" stroke-width="0.9" stroke-linejoin="round"/>
<text x="529.15" y="387.2" font-size="6" fill="#1d8f7e" font-weight="bold" textLength="2.9" lengthAdjust="spacingAndGlyphs">E</text>
<rect x="554.7" y="380.3" width="7.6" height="8" rx="1.3" fill="#1f0826" stroke="#b821d8" stroke-width="0.9"/>
<text x="557.05" y="386.5" font-size="6" fill="#b821d8" font-weight="bold" textLength="2.9" lengthAdjust="spacingAndGlyphs">E</text>
<rect x="48.6" y="383.4" width="8.6" height="5" rx="1.6" fill="#0c2e2a" stroke="#1d8f7e" stroke-width="1"/>
<g fill="#fff" stroke="#fff" stroke-width="0.5" stroke-linejoin="round"><path d="M47.4 376.3h5.6v6.8h-2.9v-3.9h-2.7z"/><circle cx="54.6" cy="377.8" r="1.35"/><path d="M57.2 376.3h3.3l-3.1 6.8h-3.3z"/></g>
<circle cx="49.8" cy="48.3" r="4" fill="#eef1f6"/><path d="M47.2 46.6h2.2a1.7 1.7 0 0 1 0 3.4h-2.2z" fill="#2b5fae"/><circle cx="51.6" cy="48.3" r="1.1" fill="#2f9d9a"/>
<text x="55.5" y="50.6" font-size="6.4" fill="#d4d6da" font-weight="bold" textLength="42" lengthAdjust="spacingAndGlyphs">BPE - 1W - MIL</text>
<circle cx="108.2" cy="48.3" r="3.6" fill="#0e302b"/><circle cx="108.2" cy="48.3" r="1.7" fill="#1fbf9a"/>
<text x="119.3" y="50.6" font-size="5.4" fill="#dfe1e6" textLength="22.2" lengthAdjust="spacingAndGlyphs" font-weight="bold">O - Aper.</text>
<text x="142" y="50.6" font-size="5.4" fill="#e0353f" textLength="11.5" lengthAdjust="spacingAndGlyphs" font-weight="bold">8,000</text>
<text x="158.5" y="50.6" font-size="5.4" fill="#dfe1e6" textLength="21.5" lengthAdjust="spacingAndGlyphs" font-weight="bold">H - Max.</text>
<text x="180.6" y="50.6" font-size="5.4" fill="#e0353f" textLength="13.9" lengthAdjust="spacingAndGlyphs" font-weight="bold">8,046</text>
<text x="197.2" y="50.6" font-size="5.4" fill="#dfe1e6" textLength="18.8" lengthAdjust="spacingAndGlyphs" font-weight="bold">L - Min.</text>
<text x="217" y="50.6" font-size="5.4" fill="#e0353f" textLength="14.0" lengthAdjust="spacingAndGlyphs" font-weight="bold">7,800</text>
<text x="233.5" y="50.6" font-size="5.4" fill="#dfe1e6" textLength="24.8" lengthAdjust="spacingAndGlyphs" font-weight="bold">C - Chius.</text>
<text x="258.9" y="50.6" font-size="5.4" fill="#e0353f" textLength="13.7" lengthAdjust="spacingAndGlyphs" font-weight="bold">7,802</text>
<text x="276.3" y="50.6" font-size="5.4" fill="#e0353f" textLength="39.7" lengthAdjust="spacingAndGlyphs" font-weight="bold">-0,040 (-0,51%)</text>
<rect x="45.7" y="55.8" width="23.8" height="13.2" rx="2" fill="#151112" stroke="#a3262e" stroke-width="1.1"/>
<text x="58" y="62.3" font-size="5.4" fill="#ee3645" text-anchor="middle" font-weight="bold">7,802</text>
<text x="58" y="67.6" font-size="4.6" fill="#ee3645" text-anchor="middle">VENDI</text>
<text x="78.5" y="64.6" font-size="4.6" fill="#c9ccd3" text-anchor="middle" font-weight="bold">0,000</text>
<rect x="87.7" y="55.8" width="27.5" height="13.2" rx="2" fill="#101218" stroke="#2343b8" stroke-width="1.1"/>
<text x="101.6" y="62.3" font-size="5.4" fill="#3566ff" text-anchor="middle" font-weight="bold">7,802</text>
<text x="101.6" y="67.6" font-size="4.6" fill="#3566ff" text-anchor="middle">COMPRA</text>
<rect x="45.7" y="74" width="12" height="7" rx="1" fill="#111111" stroke="#2e2e2e" stroke-width="0.8"/>
<path d="M47.6 76.9l1.4 1.4 1.4-1.4" fill="none" stroke="#d8d8d8" stroke-width="0.8"/>
<text x="53" y="79.6" font-size="5.6" fill="#e4e6ea" font-weight="bold">2</text>
</g>
<g fill="#0e2d62">
<circle cx="290.2" cy="411.4" r="3.5"/>
<path d="M301.4 407.9h6.6l-11.6 25.2l-3.8-6.7z"/>
<path d="M312.4 407.9h6.6l-11.5 25.2l-3.3-6.7z"/>
<text x="328.2" y="430.9" font-size="30.5" fill="#0e2d62" stroke="#0e2d62" stroke-width="1" stroke-linejoin="round" textLength="111.3" lengthAdjust="spacingAndGlyphs">websim</text>
</g>
</svg></body></html>
